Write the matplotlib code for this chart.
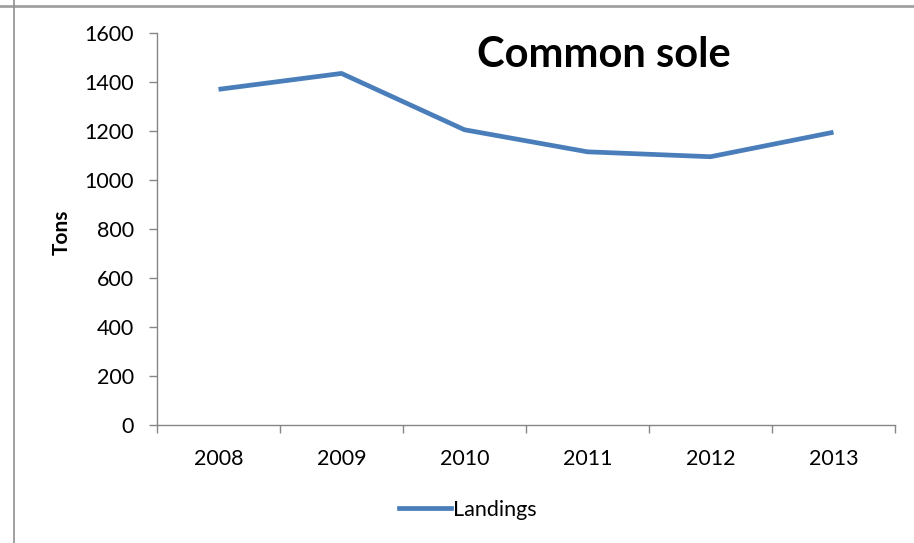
import matplotlib
matplotlib.use("Agg")
import matplotlib.pyplot as plt
from matplotlib.lines import Line2D

years = ["2008", "2009", "2010", "2011", "2012", "2013"]
landings = [1370, 1435, 1205, 1115, 1095, 1195]
yticks = [0, 200, 400, 600, 800, 1000, 1200, 1400, 1600]

W, H = 914, 543
fig = plt.figure(figsize=(W / 100, H / 100), dpi=100)
fig.patch.set_facecolor("white")

ax = fig.add_axes([157 / W, 1 - 425 / H, (895 - 157) / W, 392 / H])
x = list(range(len(years)))
ax.plot(x, landings, color="#4A7EBB", lw=3.4, solid_capstyle="butt", label="Landings")

ax.set_xlim(-0.5, len(years) - 0.5)
ax.set_ylim(0, 1600)
ax.set_yticks(yticks)
ax.set_yticklabels([str(v) for v in yticks], family="Lato", fontsize=15.5)
ax.set_xticks(x)
ax.set_xticklabels(years, family="Lato", fontsize=15.5)
ax.tick_params(axis="x", which="major", length=0, pad=17)
ax.set_xticks([i - 0.5 for i in range(len(years) + 1)], minor=True)
ax.tick_params(axis="x", which="minor", length=6, color="#868686", width=1)
ax.tick_params(axis="y", length=5.5, color="#868686", width=1, pad=11)

for s in ["top", "right"]:
    ax.spines[s].set_visible(False)
for s in ["left", "bottom"]:
    ax.spines[s].set_color("#868686")
    ax.spines[s].set_linewidth(1)

fig.text(62 / W, 1 - 232 / H, "Tons", family="Lato", fontweight="bold", fontsize=15,
         rotation=90, ha="center", va="center")

fig.text(604 / W, 1 - 55 / H, "Common sole", family="Lato", fontweight="bold",
         fontsize=30, ha="center", va="center")

leg = fig.legend(handles=[Line2D([0], [0], color="#4A7EBB", lw=3.4)], labels=["Landings"],
                 loc="center", bbox_to_anchor=(468 / W, 1 - 510 / H), frameon=False,
                 prop={"family": "Lato", "size": 15.5}, handlelength=2.4, handletextpad=0.1)

# outer border lines
fig.add_artist(Line2D([0, 1], [1 - 6 / H, 1 - 6 / H], transform=fig.transFigure, color="#A0A0A0", lw=2))
fig.add_artist(Line2D([14 / W, 14 / W], [0, 1], transform=fig.transFigure, color="#909090", lw=1.2))

fig.savefig("out.png", dpi=100)
